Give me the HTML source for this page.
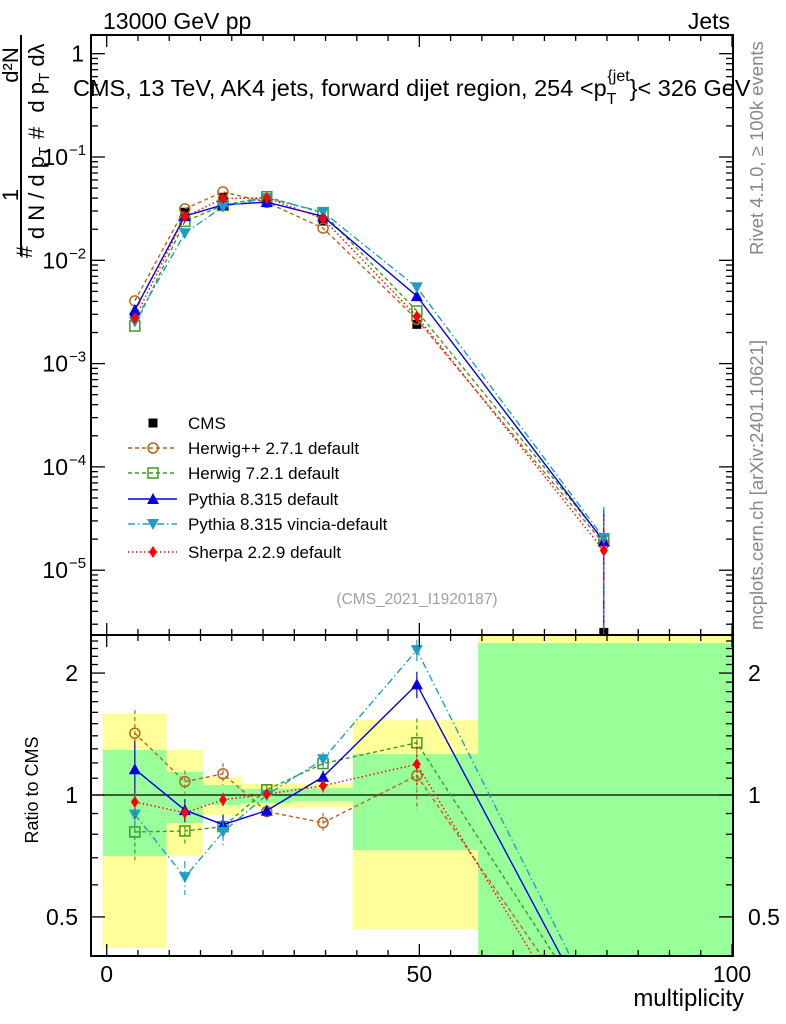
<!DOCTYPE html>
<html><head><meta charset="utf-8"><style>
html,body{margin:0;padding:0;background:#fff;overflow:hidden;width:786px;height:1024px;}
svg{display:block;font-family:"Liberation Sans",sans-serif;}
</style></head><body>
<svg id="chart" width="786" height="1024" viewBox="0 0 786 1024" xmlns="http://www.w3.org/2000/svg">
<defs>
<clipPath id="clipTop"><rect x="91" y="35" width="642" height="600"/></clipPath>
<clipPath id="clipRat"><rect x="91" y="635" width="642" height="321"/></clipPath>
</defs>
<g id="bands" clip-path="url(#clipRat)"></g>
<g id="ratlines" clip-path="url(#clipRat)"></g>
<g id="toplines" clip-path="url(#clipTop)"></g>
<g id="axes"></g>
<text x="103" y="29" font-size="23">13000 GeV pp</text>
<text x="730" y="29" font-size="23" text-anchor="end">Jets</text>
<text x="73" y="96" font-size="23.5">CMS, 13 TeV, AK4 jets, forward dijet region, 254 &lt;p<tspan font-size="16" dy="8">T</tspan><tspan font-size="16" dy="-23" dx="-9">{jet</tspan><tspan dy="15">}&lt; 326 GeV</tspan></text>
<text x="417" y="604" font-size="15.5" fill="#a0a0a0" text-anchor="middle">(CMS_2021_I1920187)</text>
<text transform="translate(763,255) rotate(-90)" font-size="18.5" fill="#888">Rivet 4.1.0, ≥ 100k events</text>
<text transform="translate(763,630) rotate(-90)" font-size="18.5" fill="#888">mcplots.cern.ch [arXiv:2401.10621]</text>
<text transform="translate(38,790) rotate(-90)" font-size="18" text-anchor="middle">Ratio to CMS</text>
<text x="744" y="1006" font-size="24" text-anchor="end">multiplicity</text>
<g font-size="22">
<line x1="21" y1="35" x2="21" y2="256" stroke="#000" stroke-width="2"/>
<text transform="translate(18,65) rotate(-90)" text-anchor="middle">d²N</text>
<text transform="translate(18,195) rotate(-90)" text-anchor="middle">1</text>
<text transform="translate(44,78) rotate(-90)" text-anchor="middle">d p<tspan font-size="15" dy="5">T</tspan><tspan dy="-5"> dλ</tspan></text>
<text transform="translate(44,133) rotate(-90)" text-anchor="middle">#</text>
<text transform="translate(44,193) rotate(-90)" text-anchor="middle">d N / d p<tspan font-size="15" dy="5">T</tspan></text>
<text transform="translate(32,252) rotate(-90)" text-anchor="middle">#</text>
</g>
<g id="legend"></g>
</svg>
<script>
const xs = [4.5, 12.5, 18.6, 25.6, 34.6, 49.6, 79.5];
const binEdges = [-0.6, 9.6, 15.4, 21.6, 29.6, 39.4, 59.4, 100.2];
const cms = [2.85e-3, 0.0292, 0.0407, 0.040, 0.024, 2.4e-3, 2.5e-6];
const cmsRatioDenom = [2.85e-3, 0.0292, 0.0407, 0.040, 0.024, 2.4e-3, 7.5e-5];
const herwigpp = [4.05e-3, 0.0315, 0.0459, 0.0364, 0.0205, 2.68e-3, 1.8e-5];
const herwig7 = [2.31e-3, 0.0238, 0.034, 0.0412, 0.0287, 3.23e-3, 1.95e-5];
const pythia = [3.3e-3, 0.0268, 0.0344, 0.0366, 0.0266, 4.5e-3, 1.9e-5];
const vincia = [2.55e-3, 0.0183, 0.033, 0.040, 0.0294, 5.47e-3, 2.05e-5];
const sherpa = [2.74e-3, 0.0264, 0.0396, 0.0402, 0.0253, 2.86e-3, 1.55e-5];
const herwigppErr = [0.2, 0.07, 0.07, 0.03, 0.05, 0.2, 0];
const herwig7Err = [0.12, 0.06, 0.05, 0.03, 0.05, 0.2, 0];
const pythiaErr = [0.2, 0.06, 0.05, 0.03, 0.04, 0.14, 0];
const vinciaErr = [0.12, 0.06, 0.06, 0.03, 0.05, 0.14, 0];
const sherpaErr = [0.1, 0.05, 0.04, 0.03, 0.04, 0.15, 0];
const yellowHi = [1.585, 1.292, 1.108, 1.065, 1.065, 1.53, 3.0];
const yellowLo = [0.419, 0.707, 0.892, 0.929, 0.934, 0.467, 0.1];
const greenHi = [1.292, 1.14, 1.058, 1.035, 1.04, 1.262, 2.37];
const greenLo = [0.707, 0.853, 0.945, 0.955, 0.966, 0.731, 0.1];
const xTickLabels = [0, 50, 100];
const topTickLabels = [["1",0],["10","-1"],["10","-2"],["10","-3"],["10","-4"],["10","-5"]];
const ratioTickLabels = [0.5, 1, 2];

const NS = "http://www.w3.org/2000/svg";
const X = v => 106.7 + 6.253 * v;
const YT = v => 157 - 103.3 * (Math.log10(v) + 1);
const YR = r => 795 - 405 * Math.log10(r);
function mk(tag, attrs, parent) {
  const e = document.createElementNS(NS, tag);
  for (const k in attrs) e.setAttribute(k, attrs[k]);
  parent.appendChild(e); return e;
}
const bandG = document.getElementById('bands');
for (let i = 0; i < yellowHi.length; i++) {
  const x1 = X(binEdges[i]), x2 = X(binEdges[i+1]);
  const y = mk('rect', {x: x1, y: YR(yellowHi[i]), width: x2 - x1, height: YR(yellowLo[i]) - YR(yellowHi[i]), fill: '#ffff99'}, bandG);
  
  
  const g = mk('rect', {x: x1, y: YR(greenHi[i]), width: x2 - x1, height: YR(greenLo[i]) - YR(greenHi[i]), fill: '#99ff99'}, bandG);
  
  
}
const series = [
  {name: 'herwigpp', v: herwigpp, e: herwigppErr, c: '#b5651d', dash: '4,3', m: 'circle'},
  {name: 'herwig7', v: herwig7, e: herwig7Err, c: '#3f9a1f', dash: '4,3', m: 'square'},
  {name: 'pythia', v: pythia, e: pythiaErr, c: '#0000e6', dash: '', m: 'tri-up'},
  {name: 'vincia', v: vincia, e: vinciaErr, c: '#1b9fc9', dash: '7,3,1.5,3', m: 'tri-down'},
  {name: 'sherpa', v: sherpa, e: sherpaErr, c: '#ff0000', dash: '1.5,2.5', m: 'diamond'}
];
function marker(p, x, y, s) {
  let e;
  if (s.m === 'circle') e = mk('circle', {cx: x, cy: y, r: 5, fill: 'none', stroke: s.c, 'stroke-width': 1.5}, p);
  else if (s.m === 'square') e = mk('rect', {x: x-5, y: y-5, width: 10, height: 10, fill: 'none', stroke: s.c, 'stroke-width': 1.5}, p);
  else if (s.m === 'tri-up') e = mk('polygon', {points: `${x},${y-6} ${x-6},${y+5} ${x+6},${y+5}`, fill: s.c}, p);
  else if (s.m === 'tri-down') e = mk('polygon', {points: `${x},${y+6} ${x-6},${y-5} ${x+6},${y-5}`, fill: s.c}, p);
  else if (s.m === 'diamond') e = mk('polygon', {points: `${x},${y-6} ${x-4},${y} ${x},${y+6} ${x+4},${y}`, fill: s.c}, p);
  else e = mk('rect', {x: x-4.5, y: y-4.5, width: 9, height: 9, fill: '#000'}, p);
  return e;
}
const topG = document.getElementById('toplines');
const ratG = document.getElementById('ratlines');
const refLine = mk('line', {x1: 91, x2: 733, y1: YR(1), y2: YR(1), stroke: '#000', 'stroke-width': 1.2}, ratG);


for (let i = 0; i < cms.length; i++) {
  const m = marker(topG, X(xs[i]), YT(cms[i]), {m: 'data'});
  
  
}
series.forEach(s => {
  const ptsT = s.v.map((v, i) => `${X(xs[i])},${YT(v)}`).join(' ');
  const lt = mk('polyline', {points: ptsT, fill: 'none', stroke: s.c, 'stroke-width': 1.4, 'stroke-dasharray': s.dash}, topG);
  
  
  const r = s.v.map((v, i) => v / cmsRatioDenom[i]);
  const ptsR = r.map((v, i) => `${X(xs[i])},${YR(v)}`).join(' ');
  const lr = mk('polyline', {points: ptsR, fill: 'none', stroke: s.c, 'stroke-width': 1.4, 'stroke-dasharray': s.dash}, ratG);
  
  
  s.v.forEach((v, i) => {
    const x = X(xs[i]);
    if (s.e[i] > 0) {
      const eb = mk('line', {x1: x, x2: x, y1: YR(r[i] + s.e[i]), y2: YR(Math.max(r[i] - s.e[i], 0.05)), stroke: s.c, 'stroke-width': 1.2, 'stroke-dasharray': s.dash}, ratG);
      
      
    }
    const mt = marker(topG, x, YT(v), s);
    
    
    const mr = marker(ratG, x, YR(r[i]), s);
    
    
  });
  const xl = X(xs[6]);
  const el = mk('line', {x1: xl, x2: xl, y1: YT(s.v[6] * 2), y2: 640, stroke: s.c, 'stroke-width': 1.2, 'stroke-dasharray': s.dash}, topG);
  
  
});
const ax = document.getElementById('axes');
mk('rect', {x: 91, y: 35, width: 642, height: 600, fill: 'none', stroke: '#000', 'stroke-width': 2}, ax);
mk('rect', {x: 91, y: 635, width: 642, height: 321, fill: 'none', stroke: '#000', 'stroke-width': 2}, ax);
for (let v = 0; v <= 100; v += 5) {
  const x = X(v), L = (v % 50 === 0) ? 12 : 6;
  [[35, 1], [635, 1], [635, -1], [956, -1]].forEach(([y, d]) => mk('line', {x1: x, x2: x, y1: y, y2: y + d * L, stroke: '#000', 'stroke-width': 1.3}, ax));
}
xTickLabels.forEach(v => {
  const t = mk('text', {x: X(v), y: 982, 'font-size': 23, 'text-anchor': 'middle'}, ax);
  t.textContent = v;
  
  
});
for (let d = -6; d <= 0; d++) {
  for (let k = 1; k <= 9; k++) {
    const v = k * Math.pow(10, d), y = YT(v);
    if (y < 35 || y > 635) continue;
    const L = k === 1 ? 14 : 7;
    mk('line', {x1: 91, x2: 91 + L, y1: y, y2: y, stroke: '#000', 'stroke-width': 1.3}, ax);
    mk('line', {x1: 733, x2: 733 - L, y1: y, y2: y, stroke: '#000', 'stroke-width': 1.3}, ax);
  }
}
topTickLabels.forEach((lab, i) => {
  const y = YT(Math.pow(10, -i)) + 8;
  const t = mk('text', {x: lab[1] === 0 ? 84 : 68, y: y, 'font-size': 23, 'text-anchor': 'end'}, ax);
  t.textContent = lab[0];
  
  
  if (lab[1] !== 0) {
    const s = mk('text', {x: 69, y: y - 10, 'font-size': 15}, ax);
    s.textContent = '−' + lab[1].slice(1);
  }
});
const rt = [0.4,0.5,0.6,0.7,0.8,0.9,1,1.1,1.2,1.3,1.4,1.5,1.6,1.7,1.8,1.9,2,2.1,2.2,2.3,2.4];
rt.forEach(v => {
  const y = YR(v), L = ratioTickLabels.includes(v) ? 14 : 7;
  mk('line', {x1: 91, x2: 91 + L, y1: y, y2: y, stroke: '#000', 'stroke-width': 1.3}, ax);
  mk('line', {x1: 733, x2: 733 - L, y1: y, y2: y, stroke: '#000', 'stroke-width': 1.3}, ax);
});
ratioTickLabels.forEach(v => {
  const y = YR(v) + 8;
  const a = mk('text', {x: 78, y: y, 'font-size': 23, 'text-anchor': 'end'}, ax);
  a.textContent = v;
  
  
  const b = mk('text', {x: 748, y: y, 'font-size': 23}, ax);
  b.textContent = v;
  
  
});
const lg = document.getElementById('legend');
const legRows = [
  ['CMS', {m: 'data', c: '#000', dash: ''}, false],
  ['Herwig++ 2.7.1 default', series[0], true],
  ['Herwig 7.2.1 default', series[1], true],
  ['Pythia 8.315 default', series[2], true],
  ['Pythia 8.315 vincia-default', series[3], true],
  ['Sherpa 2.2.9 default', series[4], true]
];
const legY = [423, 448, 473, 499, 524, 552];
legRows.forEach((r, i) => {
  const g = mk('g', {}, lg);
  
  
  const y = legY[i];
  if (r[2]) mk('line', {x1: 128, x2: 177, y1: y, y2: y, stroke: r[1].c, 'stroke-width': 1.4, 'stroke-dasharray': r[1].dash}, g);
  marker(g, 153, y, r[1]);
  const t = mk('text', {x: 188, y: y + 6, 'font-size': 17}, g);
  t.textContent = r[0];
});
</script>
</body></html>
